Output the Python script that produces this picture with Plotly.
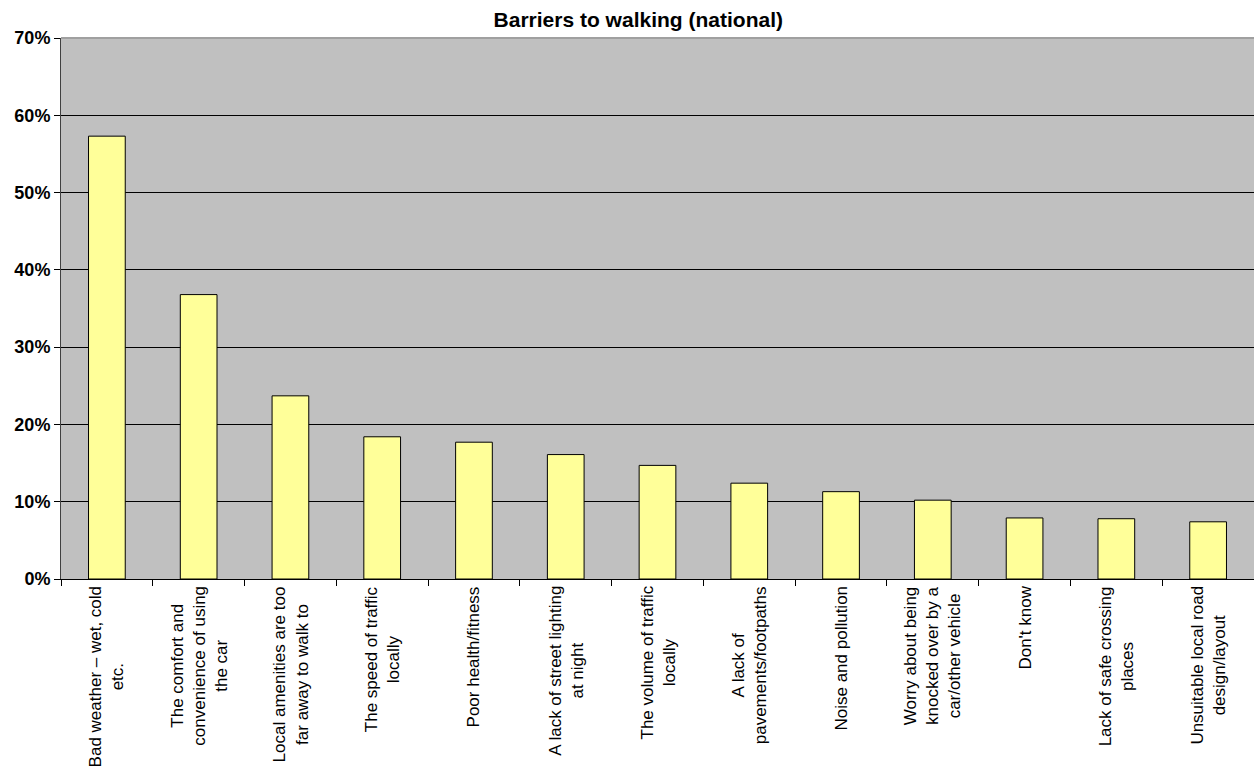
import plotly.graph_objects as go

categories = [
    "Bad weather – wet, cold<br>etc.",
    "The comfort and<br>convenience of using<br>the car",
    "Local amenities are too<br>far away to walk to",
    "The speed of traffic<br>locally",
    "Poor health/fitness",
    "A lack of street lighting<br>at night",
    "The volume of traffic<br>locally",
    "A lack of<br>pavements/footpaths",
    "Noise and pollution",
    "Worry about being<br>knocked over by a<br>car/other vehicle",
    "Don't know",
    "Lack of safe crossing<br>places",
    "Unsuitable local road<br>design/layout",
]
values = [57.3, 36.8, 23.7, 18.4, 17.7, 16.1, 14.7, 12.4, 11.3, 10.2, 7.9, 7.8, 7.4]
y_ticks = [0, 10, 20, 30, 40, 50, 60, 70]
y_tick_labels = [f"{v}%" for v in y_ticks]

FONT = "Arial, Liberation Sans, sans-serif"
x_idx = list(range(len(categories)))

fig = go.Figure()
fig.add_trace(go.Bar(
    x=x_idx, y=values,
    width=0.4,
    marker=dict(color="#FFFF99", line=dict(color="#000000", width=1)),
    hoverinfo="skip",
))

annotations = []
for i, c in enumerate(categories):
    annotations.append(dict(
        x=i, y=0, xref="x", yref="y",
        text=c, showarrow=False, textangle=-90,
        xanchor="center", yanchor="top", align="center",
        yshift=-5,
        font=dict(family=FONT, size=17, color="#000000"),
    ))

fig.update_layout(
    width=1254, height=771,
    margin=dict(l=61, r=0, t=38, b=192),
    paper_bgcolor="#FFFFFF",
    plot_bgcolor="#C0C0C0",
    showlegend=False,
    bargap=0.6,
    title=dict(
        text="<b>Barriers to walking (national)</b>",
        x=0.509, xanchor="center", y=0.975, yanchor="middle",
        font=dict(family=FONT, size=21, color="#000000"),
    ),
    annotations=annotations,
    shapes=[dict(type="line", xref="paper", yref="paper", x0=0, x1=1, y0=1, y1=1,
                 line=dict(color="#A0A0A0", width=2), layer="above")],
)
fig.update_xaxes(
    type="linear", range=[-0.5, len(categories) - 0.5],
    tickmode="array", tickvals=[i - 0.5 for i in range(len(categories) + 1)],
    showticklabels=False, ticks="outside", ticklen=6, tickcolor="#000000",
    showgrid=False, zeroline=False,
    showline=True, linecolor="#000000", linewidth=1,
)
fig.update_yaxes(
    range=[0, 70], tickmode="array", tickvals=y_ticks, ticktext=y_tick_labels,
    ticks="outside", ticklen=6, tickcolor="#000000",
    tickfont=dict(family=FONT, size=18, color="#000000", weight="bold"),
    showgrid=True, gridcolor="#000000", gridwidth=1,
    zeroline=False,
    showline=True, linecolor="#404040", linewidth=1,
)

fig.write_html("out.html")
